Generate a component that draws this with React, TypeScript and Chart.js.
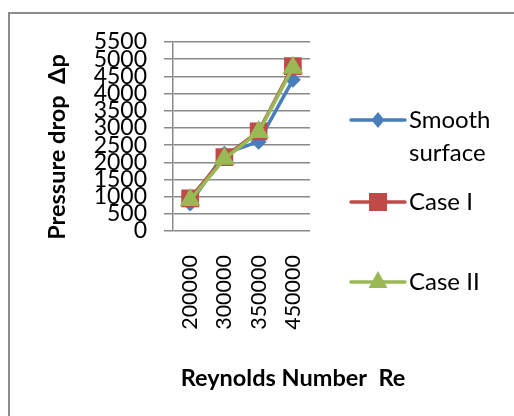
import React, { useEffect, useRef } from "react";
import { Chart, registerables } from "chart.js";

Chart.register(...registerables);

const categories = ["200000", "300000", "350000", "450000"];
const smoothSurface = [800, 2250, 2600, 4400];
const caseI = [950, 2150, 2900, 4800];
const caseII = [900, 2100, 2880, 4750];
const seriesNames = ["Smooth surface", "Case I", "Case II"];
const yTitle = "Pressure drop  \u0394p";
const xTitle = "Reynolds Number  Re";

const BLUE = "#4A7EBB";
const RED = "#BE4B48";
const GREEN = "#98B954";
const GRID = "#8a8a8a";
const FONT = "Lato, 'Open Sans', sans-serif";

const overlayPlugin = {
  id: "overlay",
  afterDraw(chart: any) {
    const ctx = chart.ctx as CanvasRenderingContext2D;
    ctx.save();
    ctx.fillStyle = "#000";
    // axis titles
    ctx.font = `bold 23.5px ${FONT}`;
    ctx.textAlign = "center";
    ctx.textBaseline = "middle";
    ctx.fillText(xTitle, 293, 378);
    ctx.save();
    ctx.translate(57, 147);
    ctx.rotate(-Math.PI / 2);
    ctx.fillText(yTitle, 0, 0);
    ctx.restore();

    // legend
    const items = [
      { color: BLUE, shape: "diamond", y: 120, lines: ["Smooth", "surface"] },
      { color: RED, shape: "square", y: 202, lines: ["Case I"] },
      { color: GREEN, shape: "triangle", y: 282, lines: ["Case II"] },
    ];
    items.forEach((it) => {
      ctx.strokeStyle = it.color;
      ctx.lineWidth = 3.5;
      ctx.lineCap = "round";
      ctx.beginPath();
      ctx.moveTo(351, it.y);
      ctx.lineTo(405, it.y);
      ctx.stroke();
      ctx.fillStyle = it.color;
      const cx = 378;
      const cy = it.y;
      ctx.beginPath();
      if (it.shape === "diamond") {
        ctx.moveTo(cx, cy - 8);
        ctx.lineTo(cx + 6.5, cy);
        ctx.lineTo(cx, cy + 8);
        ctx.lineTo(cx - 6.5, cy);
      } else if (it.shape === "square") {
        ctx.rect(cx - 9, cy - 9, 18, 18);
      } else {
        ctx.moveTo(cx, cy - 11);
        ctx.lineTo(cx + 9.5, cy + 6);
        ctx.lineTo(cx - 9.5, cy + 6);
      }
      ctx.closePath();
      ctx.fill();
      ctx.fillStyle = "#000";
      ctx.font = `24px ${FONT}`;
      ctx.textAlign = "left";
      ctx.textBaseline = "middle";
      it.lines.forEach((t, i) => ctx.fillText(t, 409, cy + i * 33));
    });
    ctx.restore();
  },
};

export default function App() {
  const ref = useRef<HTMLCanvasElement | null>(null);

  useEffect(() => {
    let chart: Chart | null = null;
    let cancelled = false;
    const make = () => {
      if (cancelled || !ref.current) return;
      chart = new Chart(ref.current, {
        type: "line",
        data: {
          labels: categories,
          datasets: [
            {
              label: seriesNames[0],
              data: smoothSurface,
              borderColor: BLUE,
              backgroundColor: BLUE,
              borderWidth: 3.5,
              pointStyle: "rectRot",
              pointRadius: 8,
              pointBorderWidth: 0,
              order: 2,
            },
            {
              label: seriesNames[1],
              data: caseI,
              borderColor: RED,
              backgroundColor: RED,
              borderWidth: 3.5,
              pointStyle: "rect",
              pointRadius: 12.5,
              pointBorderWidth: 0,
              order: 1,
            },
            {
              label: seriesNames[2],
              data: caseII,
              borderColor: GREEN,
              backgroundColor: GREEN,
              borderWidth: 3.5,
              pointStyle: "triangle",
              pointRadius: 12,
              pointBorderWidth: 0,
              order: 0,
            },
          ],
        },
        options: {
          responsive: false,
          animation: false,
          devicePixelRatio: 1,
          layout: { padding: { left: 0, right: 204, top: 42, bottom: 0 } },
          plugins: { legend: { display: false }, tooltip: { enabled: false } },
          scales: {
            x: {
              offset: true,
              grid: { display: false, drawTicks: false, tickLength: 0 },
              border: { display: false },
              ticks: {
                minRotation: 90,
                maxRotation: 90,
                padding: 24,
                color: "#000",
                font: { family: FONT, size: 21.5 },
                autoSkip: false,
              },
              afterFit: (s: any) => {
                s.height = 185;
              },
            },
            y: {
              min: 0,
              max: 5500,
              grid: { color: GRID, lineWidth: 1.5, tickLength: 9 },
              border: { color: GRID, width: 1.5 },
              ticks: {
                stepSize: 500,
                autoSkip: false,
                padding: 17,
                color: "#000",
                font: { family: FONT, size: 23 },
                callback: (v: any) => String(v),
              },
              afterFit: (s: any) => {
                s.width = 173;
              },
            },
          },
        },
        plugins: [overlayPlugin],
      });
    };
    const fontsReady = (document as any).fonts
      ? Promise.all([
          (document as any).fonts.load(`22px Lato`),
          (document as any).fonts.load(`bold 22px Lato`),
        ]).catch(() => null)
      : Promise.resolve(null);
    fontsReady.then(make);
    return () => {
      cancelled = true;
      if (chart) chart.destroy();
    };
  }, []);

  return (
    <div>
      <div
        style={{
          position: "fixed",
          left: 8,
          top: 12,
          width: 506,
          height: 404,
          boxSizing: "border-box",
          borderTop: "2px solid #8c8c8c",
          borderLeft: "2px solid #8c8c8c",
        }}
      />
      <canvas
        ref={ref}
        width={514}
        height={416}
        style={{ position: "fixed", left: 0, top: 0, display: "block" }}
      />
    </div>
  );
}
